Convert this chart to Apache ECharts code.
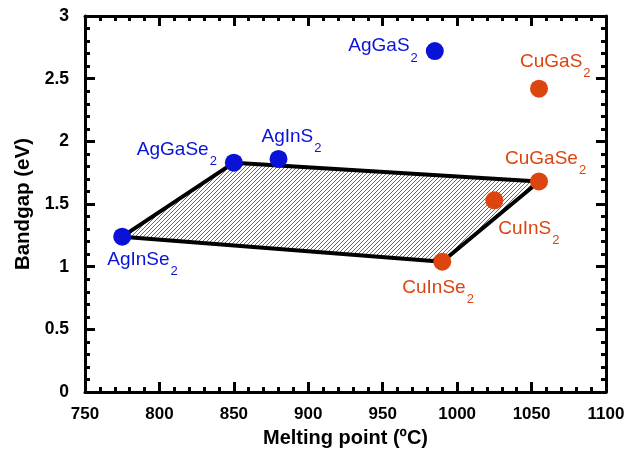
<!DOCTYPE html>
<html>
<head>
<meta charset="utf-8">
<script src="https://cdn.jsdelivr.net/npm/echarts@6/dist/echarts.min.js"></script>
<style>
html,body{margin:0;padding:0;background:#fff;}
#c{width:636px;height:453px;}
</style>
</head>
<body>
<div id="c"></div>
<script>
// ---- data ----
const agNames = ['AgInSe2', 'AgGaSe2', 'AgInS2', 'AgGaS2'];
const agMelt  = [775, 850, 880, 985];
const agGap   = [1.24, 1.83, 1.86, 2.72];

const cuNames = ['CuInSe2', 'CuInS2', 'CuGaSe2', 'CuGaS2'];
const cuMelt  = [990, 1025, 1055, 1055];
const cuGap   = [1.04, 1.53, 1.68, 2.42];

// corners of the hatched region
const regionNames = ['AgInSe2', 'AgGaSe2', 'CuGaSe2', 'CuInSe2'];

const xTickLabels = ['750', '800', '850', '900', '950', '1000', '1050', '1100'];
const yTickLabels = ['0', '0.5', '1', '1.5', '2', '2.5', '3'];

// ---- label placement (style, not data) ----
const labelPlace = {
  'AgInSe2': {align: 'left',  offset: [-15, 23]},
  'AgGaSe2': {align: 'right', offset: [-17, -13]},
  'AgInS2':  {align: 'left',  offset: [-17, -22]},
  'AgGaS2':  {align: 'right', offset: [-17, -5]},
  'CuInSe2': {align: 'left',  offset: [-40, 26]},
  'CuInS2':  {align: 'left',  offset: [4, 28]},
  'CuGaSe2': {align: 'left',  offset: [-34, -23]},
  'CuGaS2':  {align: 'left',  offset: [-19, -27]}
};

const BLUE = '#0a12d8';
const ORANGE = '#dc4410';
const FONT = '"Liberation Sans", Arial, sans-serif';

const lookup = {};
agNames.forEach((n, i) => lookup[n] = [agMelt[i], agGap[i]]);
cuNames.forEach((n, i) => lookup[n] = [cuMelt[i], cuGap[i]]);

function mkItems(names, xs, ys, color) {
  return names.map((n, i) => ({
    name: n,
    value: [xs[i], ys[i]],
    label: {
      show: true,
      position: 'inside',
      align: labelPlace[n].align,
      verticalAlign: 'middle',
      offset: labelPlace[n].offset,
      formatter: (p) => '{a|' + p.name.slice(0, -1) + '}{s|' + p.name.slice(-1) + '}',
      rich: {
        a: {fontSize: 19, lineHeight: 19, color: color, fontFamily: FONT},
        s: {fontSize: 13, lineHeight: 13, color: color, fontFamily: FONT, padding: [24, 0, 0, 1]}
      }
    }
  }));
}

// hatch pattern
const pc = document.createElement('canvas');
pc.width = 4; pc.height = 4;
const g = pc.getContext('2d');
g.fillStyle = '#ffffff';
g.fillRect(0, 0, 4, 4);
g.strokeStyle = '#5a5a5a';
g.lineWidth = 0.9;
g.beginPath();
g.moveTo(-1, 5); g.lineTo(5, -1);
g.moveTo(-1, 1); g.lineTo(1, -1);
g.moveTo(3, 5); g.lineTo(5, 3);
g.stroke();

function xAx(pos, showLabel) {
  return {
    type: 'value', position: pos, min: 750, max: 1100, interval: 50,
    name: showLabel ? 'Melting point (ºC)' : '',
    nameLocation: 'middle', nameGap: 32,
    nameTextStyle: {fontSize: 20, fontWeight: 'bold', color: '#000', fontFamily: FONT},
    axisLine: {show: true, onZero: false, lineStyle: {color: '#000', width: 3}},
    axisTick: {show: true, inside: true, length: 10, lineStyle: {color: '#000', width: 3}},
    minorTick: {show: true, splitNumber: 5, length: 5, lineStyle: {color: '#000', width: 3}},
    axisLabel: {show: showLabel, fontSize: 17, fontWeight: 'bold', color: '#000', margin: 14, fontFamily: FONT,
      formatter: (v) => xTickLabels[Math.round((v - 750) / 50)]},
    splitLine: {show: false}
  };
}
function yAx(pos, showLabel) {
  return {
    type: 'value', position: pos, min: 0, max: 3, interval: 0.5,
    name: showLabel ? 'Bandgap (eV)' : '',
    nameLocation: 'middle', nameGap: 43,
    nameTextStyle: {fontSize: 20.5, fontWeight: 'bold', color: '#000', fontFamily: FONT},
    axisLine: {show: true, onZero: false, lineStyle: {color: '#000', width: 3}},
    axisTick: {show: true, inside: true, length: 10, lineStyle: {color: '#000', width: 3}},
    minorTick: {show: true, splitNumber: 5, length: 5, lineStyle: {color: '#000', width: 3}},
    axisLabel: {show: showLabel, fontSize: 17.5, fontWeight: 'bold', color: '#000', margin: 16, fontFamily: FONT,
      formatter: (v) => yTickLabels[Math.round(v / 0.5)]},
    splitLine: {show: false}
  };
}

const chart = echarts.init(document.getElementById('c'), null, {renderer: 'canvas'});
chart.setOption({
  animation: false,
  backgroundColor: '#fff',
  grid: {left: 85, top: 16, right: 30, bottom: 59, containLabel: false},
  xAxis: [xAx('bottom', true), xAx('top', false)],
  yAxis: [yAx('left', true), yAx('right', false)],
  series: [
    {
      type: 'custom',
      xAxisIndex: 0, yAxisIndex: 0,
      data: [[0, 0]],
      silent: true,
      z: 1,
      renderItem: function (params, api) {
        const pts = regionNames.map(n => api.coord(lookup[n]));
        return {
          type: 'polygon',
          z2: 0,
          shape: {points: pts},
          style: {
            fill: {image: pc, repeat: 'repeat'},
            stroke: '#000',
            lineWidth: 4,
            lineJoin: 'round'
          }
        };
      }
    },
    {
      type: 'scatter', xAxisIndex: 0, yAxisIndex: 0, zlevel: 1, z: 3,
      symbol: 'circle', symbolSize: 18,
      itemStyle: {color: BLUE, opacity: 1},
      data: mkItems(agNames, agMelt, agGap, BLUE)
    },
    {
      type: 'scatter', xAxisIndex: 0, yAxisIndex: 0, zlevel: 1, z: 3,
      symbol: 'circle', symbolSize: 18,
      itemStyle: {color: ORANGE, opacity: 1},
      data: mkItems(cuNames, cuMelt, cuGap, ORANGE)
    }
  ]
});
</script>
</body>
</html>
